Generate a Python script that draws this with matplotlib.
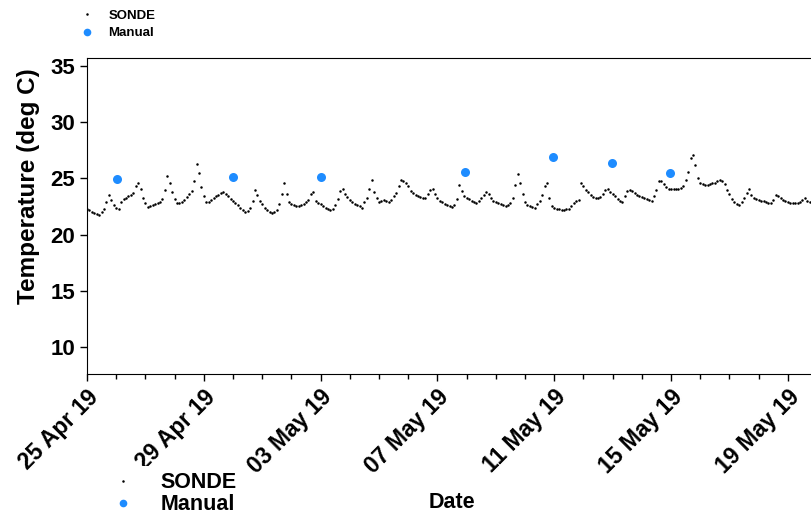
"""Sonde vs manual water temperature, 25 Apr - 19 May 2019."""

import matplotlib
matplotlib.use("Agg")
import matplotlib.pyplot as plt
import matplotlib.dates as mdates
from matplotlib.lines import Line2D
import pandas as pd

plt.rcParams["font.family"] = ["Liberation Sans", "DejaVu Sans"]
plt.rcParams["font.weight"] = "bold"

# SONDE readings every 2 hours, one row per day starting 25 Apr 2019 00:00
sonde_rows = [
    [22.3, 22.2, 22.0, 21.9, 21.8, 21.75, 22.0, 22.3, 22.9, 23.5, 23.1, 22.6],
    [22.4, 22.3, 22.9, 23.2, 23.3, 23.4, 23.5, 23.7, 24.3, 24.6, 24.1, 23.3],
    [22.8, 22.45, 22.5, 22.6, 22.7, 22.8, 22.9, 23.2, 24.0, 25.2, 24.6, 23.8],
    [23.2, 22.8, 22.85, 22.9, 23.1, 23.35, 23.6, 23.9, 24.8, 26.3, 25.5, 24.2],
    [23.4, 22.9, 22.9, 23.1, 23.3, 23.4, 23.55, 23.7, 23.8, 23.6, 23.4, 23.2],
    [23.0, 22.8, 22.6, 22.4, 22.2, 22.05, 22.1, 22.4, 23.0, 24.0, 23.5, 23.0],
    [22.7, 22.4, 22.2, 22.05, 21.9, 22.0, 22.2, 22.7, 23.6, 24.6, 23.6, 22.9],
    [22.7, 22.6, 22.55, 22.55, 22.6, 22.7, 22.9, 23.1, 23.6, 23.8, 23.0, 22.8],
    [22.7, 22.55, 22.4, 22.3, 22.2, 22.3, 22.6, 23.2, 23.9, 24.1, 23.6, 23.35],
    [23.1, 22.9, 22.75, 22.6, 22.5, 22.4, 22.9, 23.3, 24.1, 24.9, 23.8, 23.3],
    [22.9, 23.0, 23.1, 23.0, 22.9, 23.1, 23.4, 23.7, 24.3, 24.9, 24.8, 24.6],
    [24.3, 23.9, 23.7, 23.5, 23.45, 23.35, 23.3, 23.3, 23.6, 24.0, 24.1, 23.6],
    [23.3, 23.0, 22.9, 22.75, 22.6, 22.5, 22.45, 22.6, 23.2, 24.4, 23.9, 23.4],
    [23.3, 23.15, 23.0, 22.9, 22.8, 23.0, 23.3, 23.5, 23.8, 23.6, 23.3, 23.0],
    [22.9, 22.8, 22.7, 22.6, 22.5, 22.6, 22.8, 23.3, 24.4, 25.4, 24.6, 23.6],
    [22.9, 22.6, 22.5, 22.45, 22.4, 22.7, 23.0, 23.5, 24.3, 24.6, 23.3, 22.5],
    [22.4, 22.3, 22.25, 22.2, 22.2, 22.25, 22.3, 22.5, 22.8, 23.0, 23.1, 24.6],
    [24.3, 24.0, 23.8, 23.5, 23.35, 23.3, 23.3, 23.35, 23.6, 24.0, 24.1, 23.8],
    [23.6, 23.4, 23.2, 23.0, 22.9, 23.4, 23.9, 24.0, 23.9, 23.7, 23.5, 23.4],
    [23.35, 23.3, 23.2, 23.1, 23.0, 23.4, 24.0, 24.8, 24.8, 24.5, 24.2, 24.1],
    [24.1, 24.05, 24.05, 24.1, 24.15, 24.3, 24.9, 25.6, 26.8, 27.1, 26.2, 25.0],
    [24.6, 24.5, 24.4, 24.45, 24.5, 24.55, 24.6, 24.8, 24.9, 24.8, 24.5, 24.0],
    [23.6, 23.2, 22.9, 22.7, 22.65, 22.9, 23.3, 23.7, 24.1, 23.5, 23.3, 23.2],
    [23.1, 23.0, 23.0, 22.9, 22.85, 22.8, 23.1, 23.5, 23.45, 23.3, 23.1, 23.0],
    [22.9, 22.8, 22.8, 22.8, 22.8, 22.9, 23.1, 23.25, 23.0, 22.9, 22.85],
]
sonde_temp = [v for row in sonde_rows for v in row]
sonde_time = pd.date_range("2019-04-25 00:00", periods=len(sonde_temp), freq="2h")

manual_time = pd.to_datetime([
    "2019-04-26 00:45", "2019-04-29 23:45", "2019-05-03 00:00", "2019-05-07 23:00",
    "2019-05-10 23:15", "2019-05-12 23:30", "2019-05-14 23:15",
])
manual_temp = [24.95, 25.1, 25.1, 25.6, 26.9, 26.4, 25.5]

BLUE = "#1e8cff"


def main() -> None:
    fig = plt.figure(figsize=(8.11, 5.15), dpi=100)
    ax = fig.add_axes([0.1073, 0.274, 0.8927, 0.613])

    ax.plot(sonde_time, sonde_temp, linestyle="none", marker="o",
            markersize=1.8, color="black", markeredgewidth=0)
    ax.plot(manual_time, manual_temp, linestyle="none", marker="o",
            markersize=6.5, color=BLUE, markeredgewidth=0)

    ax.set_xlim(pd.Timestamp("2019-04-25 00:00"), pd.Timestamp("2019-05-19 19:00"))
    ax.set_ylim(7.6, 35.7)
    ax.set_yticks([10, 15, 20, 25, 30, 35])

    ax.xaxis.set_major_locator(mdates.DayLocator(bymonthday=[25, 29, 3, 7, 11, 15, 19]))
    ax.xaxis.set_major_formatter(mdates.DateFormatter("%d %b %y"))
    ax.xaxis.set_minor_locator(mdates.DayLocator())

    ax.spines["right"].set_visible(False)
    ax.tick_params(axis="both", which="major", length=5, width=1)
    ax.tick_params(axis="y", labelsize=16)
    ax.tick_params(axis="x", labelsize=16.5)
    ax.tick_params(axis="x", which="minor", length=3.5, width=1)
    for lab in ax.get_xticklabels():
        lab.set_rotation(45)
        lab.set_ha("right")
        lab.set_rotation_mode("anchor")
        lab.set_fontweight("bold")
    for lab in ax.get_yticklabels():
        lab.set_fontweight("bold")

    fig.text(28.5 / 811, 1 - 186 / 515, "Temperature (deg C)", rotation=90,
             ha="center", va="center", fontsize=17.5, fontweight="bold")
    fig.text(452 / 811, 1 - 503 / 515, "Date", ha="center", va="center",
             fontsize=15.5, fontweight="bold")

    handles = [
        Line2D([], [], linestyle="none", marker="o", markersize=1.8, color="black",
               markeredgewidth=0),
        Line2D([], [], linestyle="none", marker="o", markersize=5.5, color=BLUE,
               markeredgewidth=0),
    ]
    fig.legend(handles, ["SONDE", "Manual"], loc="upper left",
               bbox_to_anchor=(69 / 811, 1.004), frameon=False,
               prop={"size": 9.5, "weight": "bold"}, handletextpad=1.1,
               labelspacing=0.38, handlelength=1.0, borderpad=0.4)
    fig.legend(handles, ["SONDE", "Manual"], loc="upper left",
               bbox_to_anchor=(95 / 811, 1 - 455 / 515), frameon=True,
               facecolor="white", edgecolor="none", framealpha=1, fancybox=False,
               prop={"size": 15.5, "weight": "bold"}, handletextpad=1.23,
               labelspacing=0.05, handlelength=1.0, borderpad=0.3)

    fig.savefig("out.png", dpi=100)
    plt.close(fig)


if __name__ == "__main__":
    main()
